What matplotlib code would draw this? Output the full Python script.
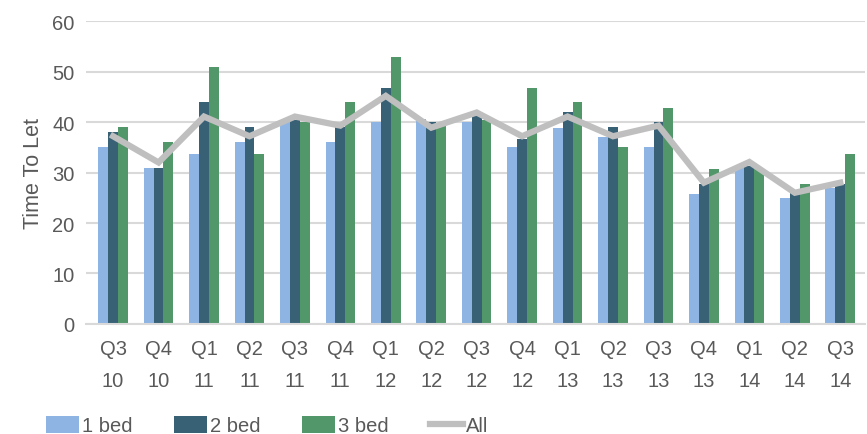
import matplotlib.pyplot as plt
import numpy as np

plt.rcParams['font.family'] = ['Liberation Sans', 'DejaVu Sans']

quarters = ['Q3\n10', 'Q4\n10', 'Q1\n11', 'Q2\n11', 'Q3\n11', 'Q4\n11', 'Q1\n12', 'Q2\n12', 'Q3\n12',
            'Q4\n12', 'Q1\n13', 'Q2\n13', 'Q3\n13', 'Q4\n13', 'Q1\n14', 'Q2\n14', 'Q3\n14']
bed1 = [35, 31, 33.6, 36, 40, 36, 40, 40.7, 40, 35, 38.8, 37, 35, 25.7, 31, 25, 27]
bed2 = [38, 31, 44, 39, 40.5, 39, 46.7, 40, 41.3, 36.6, 42, 39, 40, 27.7, 31.4, 26, 27.7]
bed3 = [39, 36, 51, 33.6, 40, 44, 53, 39.5, 40.5, 46.7, 44, 35, 42.7, 30.8, 31, 27.7, 33.6]
all_beds = [37.2, 32, 41.1, 37.2, 41.1, 39.3, 45.2, 38.9, 41.9, 37.2, 41.1, 37.2, 39.3, 28, 32.1, 26, 28]

txt = '#595959'
x = np.arange(len(quarters))
w = 0.217

fig = plt.figure(figsize=(8.67, 4.35), dpi=100)
ax = fig.add_axes([0.099, 0.253, 0.899, 0.696])

b1 = ax.bar(x - w, bed1, w, color='#8eb4e3', label='1 bed', zorder=2)
b2 = ax.bar(x, bed2, w, color='#386176', label='2 bed', zorder=2)
b3 = ax.bar(x + w, bed3, w, color='#52976a', label='3 bed', zorder=2)
ln, = ax.plot(x, all_beds, color='#bfbfbf', lw=4.5, label='All', zorder=3, solid_joinstyle='miter')

ax.set_ylim(0, 60)
ax.set_xlim(-0.6, len(quarters) - 0.45)
ax.set_yticks(range(0, 61, 10))
ax.set_xticks(x)
ax.set_xticklabels(quarters, linespacing=1.85)
ax.yaxis.grid(True, color='#d9d9d9', lw=1.5, zorder=0)
ax.set_axisbelow(True)
for s in ['top', 'right', 'left']:
    ax.spines[s].set_visible(False)
ax.spines['bottom'].set_color('#d9d9d9')
ax.spines['bottom'].set_linewidth(1.5)
ax.tick_params(axis='both', length=0, labelsize=14.5, colors=txt)
ax.tick_params(axis='x', pad=11)
ax.tick_params(axis='y', pad=8)
ax.set_ylabel('Time To Let', fontsize=15.5, color=txt, labelpad=6)

fig.legend([b1, b2, b3, ln], ['1 bed', '2 bed', '3 bed', 'All'],
           loc='lower left', bbox_to_anchor=(0.032, -0.045), ncol=4, frameon=False,
           fontsize=14.5, labelcolor=txt, handlelength=1.65, handleheight=0.85,
           handletextpad=0.15, columnspacing=2.05)

fig.savefig('out.png', dpi=100)
